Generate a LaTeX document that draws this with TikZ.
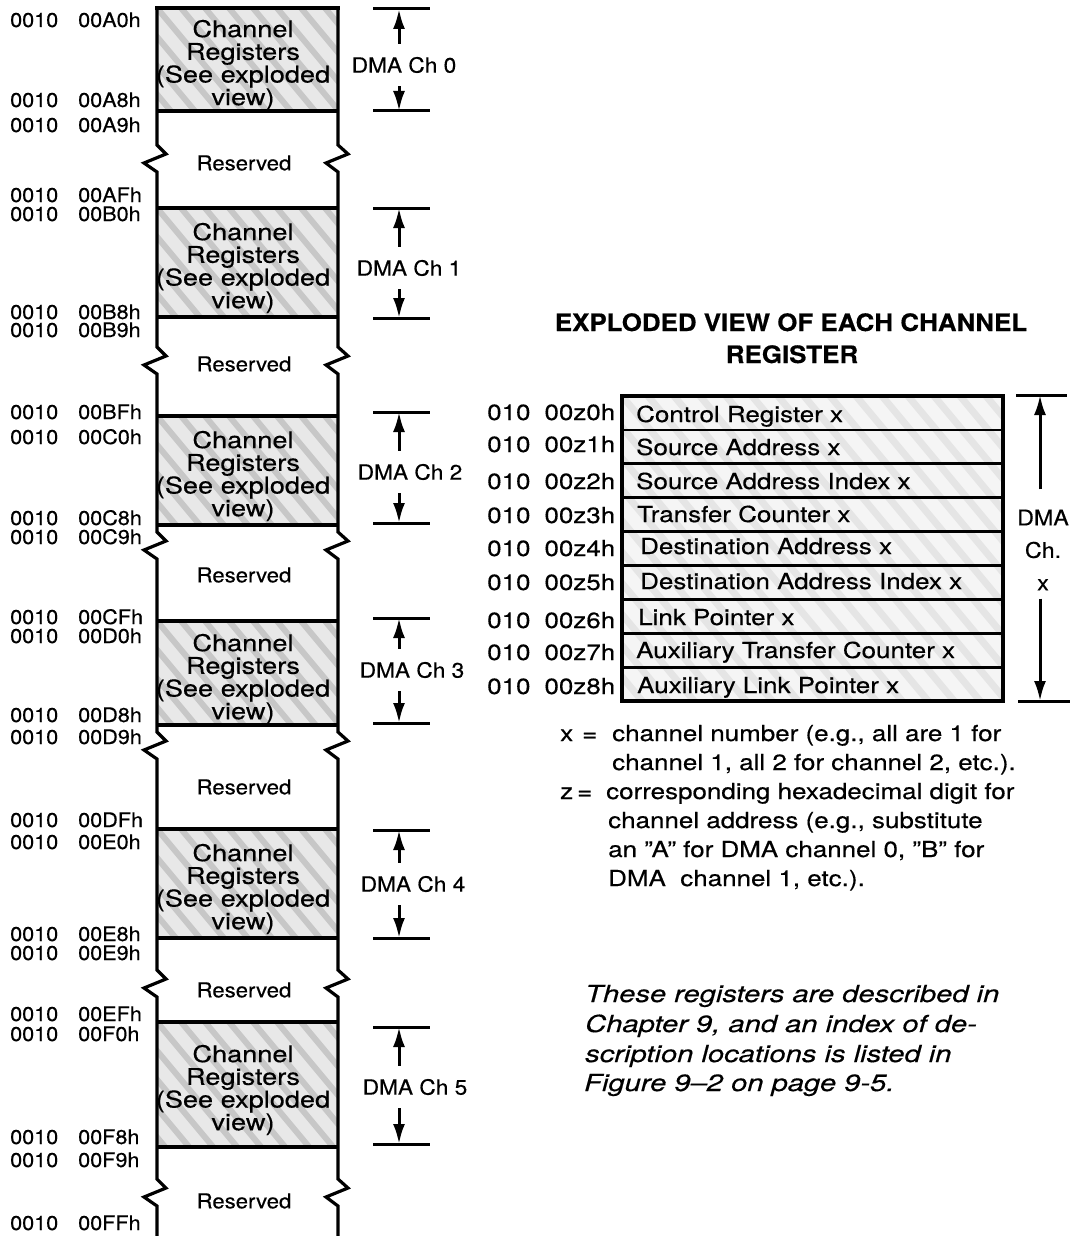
\documentclass[tikz,border=0pt]{standalone}
\usepackage{fontspec}
\setmainfont{TeX Gyre Heros}
\newfontfamily\fontA{TeX Gyre Heros}[FakeStretch=1.08,FakeBold=0.4]
\newfontfamily\fontB{TeX Gyre Heros}[FakeStretch=1.18,FakeBold=0.4]
\newfontfamily\fontC{TeX Gyre Heros}[FakeStretch=1.24,FakeBold=0.4]
\usetikzlibrary{arrows.meta}
\newcommand\dmadim[6]{%
  \node[dmalbl] (#1) at (#2,#3) {DMA Ch #6};
  \coordinate (#1t) at (399,#4);
  \coordinate (#1b) at (399,#5);
  \draw[dimtick] ([xshift=-26pt]#1t) -- ([xshift=31pt]#1t);
  \draw[dimtick] ([xshift=-26pt]#1b) -- ([xshift=31pt]#1b);
  \draw[dimarrow, shorten <=13pt] (#1.north -| #1t) -- (#1t);
  \draw[dimarrow, shorten <=13pt] (#1.south -| #1b) -- (#1b);
}
\begin{document}
\begin{tikzpicture}[x=1pt,y=-1pt,
  outline/.style={line width=3.2pt, line join=miter},
  hatchbg/.style={fill=black!9},
  hatchline/.style={draw=black!22, line width=6pt},
  lightbg/.style={fill=black!4},
  lightline/.style={draw=black!10, line width=7pt},
  addr/.style={anchor=base west, inner sep=0pt, font=\fontA\fontsize{20}{20}\selectfont},
  chtext/.style={align=center, inner sep=0pt, font=\fontB\fontsize{23}{22.7}\selectfont},
  restext/.style={inner sep=0pt, font=\fontA\fontsize{20.5}{20.5}\selectfont},
  dmalbl/.style={inner sep=0pt, font=\fontA\fontsize{21}{21}\selectfont},
  dimtick/.style={line width=3pt},
  dimarrow/.style={line width=3pt, -{Latex[length=20pt,width=12pt]}},
  titletext/.style={anchor=base, inner sep=0pt, font=\fontA\bfseries\fontsize{24}{24}\selectfont},
  rowtext/.style={anchor=base west, inner sep=0pt, font=\fontB\fontsize{22}{22}\selectfont},
  notetext/.style={anchor=base west, inner sep=0pt, font=\fontB\fontsize{22}{22}\selectfont},
  itext/.style={anchor=base west, inner sep=0pt, font=\fontC\itshape\fontsize{23.5}{23.5}\selectfont}
]
\useasboundingbox (0,0) rectangle (1075,1236);
\fill[white] (0,0) rectangle (1075,1236);

% ---------- left column: hatched channel blocks ----------
\foreach \a/\b in {8/111, 208/317, 416/525, 621/725, 829/938, 1022/1147} {
  \begin{scope}
    \clip (157,\a) rectangle (338,\b);
    \fill[hatchbg] (157,\a) rectangle (338,\b);
    \foreach \k in {-5,...,8} \draw[hatchline] ({157+\k*24},\a) -- ++(150,180);
  \end{scope}
}

% outline with break marks
\draw[outline] (157,8) \foreach \t in {163,365,550,750,988,1197} {
   -- (157,{\t-18}) -- (166,{\t-9}) -- (144,\t) -- (157,{\t+9}) } -- (157,1240);
\draw[outline] (338,8) \foreach \t in {163,365,550,750,988,1197} {
   -- (338,{\t-18}) -- (348,{\t-9}) -- (326,\t) -- (338,{\t+9}) } -- (338,1240);
\draw[outline] (155.4,8) -- (339.6,8);
\foreach \y in {111,208,317,416,525,621,725,829,938,1022,1147}
  \draw[outline] (157,\y) -- (338,\y);

% block texts
\foreach \n/\c in {ch0/65, ch1/268, ch2/476, ch3/679, ch4/889, ch5/1090}
  \node[chtext] (\n) at (243,\c) {Channel\\Registers\\(See exploded\\view)};
\foreach \n/\c in {res0/163, res1/364, res2/575, res3/787, res4/990, res5/1201}
  \node[restext] (\n) at (244,\c) {Reserved};

% addresses
\foreach \n/\t/\y in {a0/00A0h/20, a1/00A8h/100, a2/00A9h/125, a3/00AFh/195,
  a4/00B0h/214, a5/00B8h/312, a6/00B9h/330, a7/00BFh/412, a8/00C0h/437,
  a9/00C8h/518, a10/00C9h/537, a11/00CFh/617, a12/00D0h/636, a13/00D8h/715,
  a14/00D9h/737, a15/00DFh/820, a16/00E0h/842, a17/00E8h/934, a18/00E9h/953,
  a19/00EFh/1014, a20/00F0h/1034, a21/00F8h/1137, a22/00F9h/1160, a23/00FFh/1223}
  \node[addr] (\n) at (10,{\y+7}) {0010\hspace{20pt}\t};

% DMA dimension marks
\dmadim{d0}{404}{65}{9}{111}{0}
\dmadim{d1}{409}{268}{208}{318}{1}
\dmadim{d2}{410}{472}{412}{523}{2}
\dmadim{d3}{412}{670}{618}{723}{3}
\dmadim{d4}{413}{884}{830}{938}{4}
\dmadim{d5}{415}{1087}{1027}{1144}{5}

% ---------- exploded view ----------
\node[titletext] (ttl1) at (791,331) {EXPLODED VIEW OF EACH CHANNEL};
\node[titletext] (ttl2) at (792,363) {REGISTER};

\begin{scope}
  \clip (622,396) rectangle (1003,701);
  \fill[lightbg] (622,396) rectangle (1003,701);
  \foreach \k in {-9,...,16} \draw[lightline] ({622+\k*26},396) -- ++(260,312);
\end{scope}
\draw[outline] (622,396) rectangle (1003,701);
\foreach \i in {1,...,8}
  \draw[line width=2.8pt] (622,{396+\i*33.9}) -- (1003,{396+\i*33.9});

\foreach \n/\t/\y/\x in {r0/Control Register x/414/636, r1/Source Address x/447/636,
  r2/Source Address Index x/481/636, r3/Transfer Counter x/514/637,
  r4/Destination Address x/546/640, r5/Destination Address Index x/581/640,
  r6/Link Pointer x/617/638, r7/Auxiliary Transfer Counter x/650/636,
  r8/Auxiliary Link Pointer x/685/637}
  \node[rowtext] (\n) at (\x,{\y+8}) {\t};

\foreach \n/\d/\y in {z0/0/412, z1/1/444, z2/2/481, z3/3/515, z4/4/548,
  z5/5/582, z6/6/620, z7/7/652, z8/8/686}
  \node[rowtext] (\n) at (487,{\y+8}) {010\hspace{14pt}00z\d h};

% DMA Ch. x dimension
\node[align=center, inner sep=0pt, font=\fontA\fontsize{21.5}{32.5}\selectfont] (dx) at (1043,550) {DMA\\Ch.\\x};
\coordinate (dxt) at (1040,395);
\coordinate (dxb) at (1040,701);
\draw[dimtick] ([xshift=-24pt]dxt) -- ([xshift=27pt]dxt);
\draw[dimtick] ([xshift=-22pt]dxb) -- ([xshift=30pt]dxb);
\draw[dimarrow, shorten <=20pt] (dx.north -| dxt) -- (dxt);
\draw[dimarrow, shorten <=8pt] (dx.south -| dxb) -- (dxb);

% notes
\node[notetext] (nx) at (560,741) {x};
\node[notetext] (nxe) at (582,741) {=};
\node[notetext] (n1) at (612,741) {channel number (e.g., all are 1 for};
\node[notetext] (n2) at (612,770) {channel 1, all 2 for channel 2, etc.).};
\node[notetext] (nz) at (560,799) {z};
\node[notetext] (nze) at (577,799) {=};
\node[notetext] (n3) at (606,799) {corresponding hexadecimal digit for};
\node[notetext] (n4) at (608,828) {channel address (e.g., substitute};
\node[notetext] (n5) at (608,857) {an ”A” for DMA channel 0, ”B” for};
\node[notetext] (n6) at (608,886) {DMA\ \ channel 1, etc.).};

% italic remark
\node[itext] (i1) at (585,1002) {These registers are described in};
\node[itext] (i2) at (585,1032) {Chapter 9, and an index of de-};
\node[itext] (i3) at (585,1062) {scription locations is listed in};
\node[itext] (i4) at (584,1091) {Figure 9–2 on page 9-5.};
\end{tikzpicture}
\end{document}
